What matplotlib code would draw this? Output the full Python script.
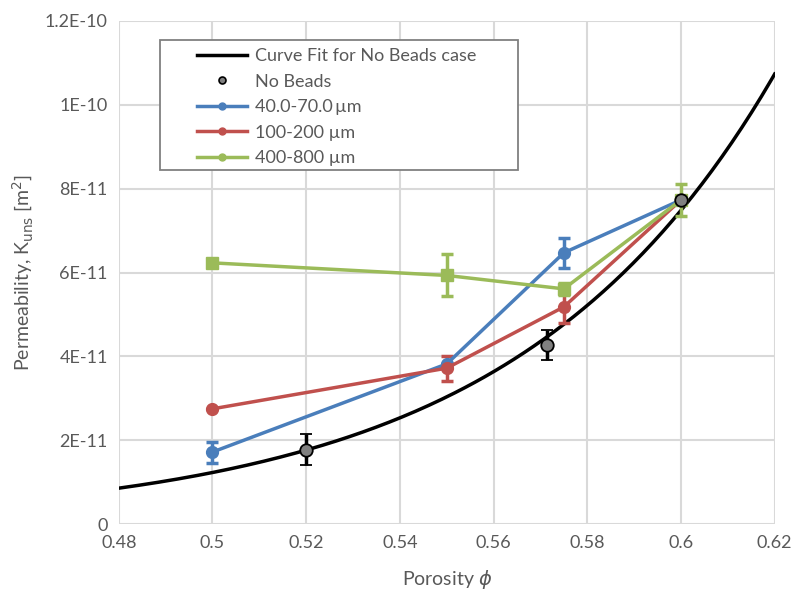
import numpy as np
import matplotlib.pyplot as plt
from matplotlib.patches import Rectangle
from matplotlib.ticker import FixedLocator, FuncFormatter

plt.rcParams['font.family'] = ['Lato', 'DejaVu Sans']
plt.rcParams['mathtext.fontset'] = 'dejavusans'

# no beads measurements
nb_phi = [0.52, 0.5713, 0.6]
nb_k = [1.77e-11, 4.27e-11, 7.73e-11]
nb_err = [0.37e-11, 0.35e-11, 0.0]

# fitted curve K = a * exp(b * phi)
fit_a = 1.49e-15
fit_b = 18.04

phi_beads = [0.5, 0.55, 0.575, 0.6]
k_40_70 = [1.72e-11, 3.82e-11, 6.47e-11, 7.73e-11]
err_40_70 = [0.25e-11, 0.0, 0.36e-11, 0.0]
k_100_200 = [2.75e-11, 3.72e-11, 5.18e-11, 7.73e-11]
err_100_200 = [0.0, 0.3e-11, 0.38e-11, 0.0]
k_400_800 = [6.23e-11, 5.93e-11, 5.61e-11, 7.73e-11]
err_400_800 = [0.0, 0.5e-11, 0.15e-11, 0.38e-11]

x_ticks = [0.48, 0.5, 0.52, 0.54, 0.56, 0.58, 0.6, 0.62]
y_ticks = [0, 2e-11, 4e-11, 6e-11, 8e-11, 1e-10, 1.2e-10]
y_labels = ["0", "2E-11", "4E-11", "6E-11", "8E-11", "1E-10", "1.2E-10"]

txt = '#595959'
fig = plt.figure(figsize=(7.97, 5.95), dpi=100)
ax = fig.add_axes([0.149, 0.119, 0.823, 0.846])

phi_fit = np.linspace(0.48, 0.62, 200)
line_fit, = ax.plot(phi_fit, fit_a * np.exp(fit_b * phi_fit), color='black',
                    lw=2.5, zorder=3)

series = [
    (k_40_70, err_40_70, '#4a7ebb', 'o', '40.0-70.0\u2009\u00b5m'),
    (k_100_200, err_100_200, '#c0504d', 'o', '100-200 \u00b5m'),
    (k_400_800, err_400_800, '#9bbb59', 's', '400-800 \u00b5m'),
]

handles, labels = [], []
for k, err, col, mk, lab in series:
    ax.errorbar(phi_beads, k, yerr=err, color=col, lw=2.5, marker=mk,
                markersize=8.5, capsize=4, capthick=2.5, elinewidth=2.5,
                zorder=4)
    h, = ax.plot([], [], color=col, lw=2.5, marker='o', markersize=5)
    handles.append(h)
    labels.append(lab)

ax.errorbar(nb_phi, nb_k, yerr=nb_err, fmt='o', color='black', mfc='#808080',
            mec='black', mew=1.3, markersize=9, capsize=4, capthick=2.5,
            elinewidth=2.5, zorder=6)
h_nb, = ax.plot([], [], 'o', mfc='#808080', mec='black', mew=1.2, markersize=5)

ax.set_xlim(0.48, 0.62)
ax.set_ylim(0, 1.2e-10)
ax.xaxis.set_major_locator(FixedLocator(x_ticks))
ax.xaxis.set_major_formatter(FuncFormatter(lambda v, p: f"{v:g}"))
ax.set_yticks(y_ticks)
ax.set_yticklabels(y_labels)
ax.grid(True, color='#d9d9d9', lw=1.5)
ax.set_axisbelow(True)
for s in ax.spines.values():
    s.set_visible(False)
ax.tick_params(length=0, labelsize=13, colors=txt, pad=8)

ax.set_xlabel('Porosity $\\phi$', fontsize=14, color=txt, labelpad=12)
ax.set_ylabel('Permeability, K$_{\\mathrm{uns}}$ [m$^2$]', fontsize=14,
              color=txt, labelpad=7)

# legend frame drawn separately for the wide Excel-style box
ax.add_patch(Rectangle((0.0625, 0.704), 0.5455, 0.258, transform=ax.transAxes,
                       facecolor='white', edgecolor='#808080', lw=1.3,
                       zorder=7))
leg = ax.legend([line_fit, h_nb] + handles,
                ['Curve Fit for No Beads case', 'No Beads'] + labels,
                loc='upper left', bbox_to_anchor=(0.119, 0.946), fontsize=13,
                frameon=False, handlelength=2.8, borderpad=0,
                labelspacing=0.53, borderaxespad=0, handletextpad=0.45)
leg.set_zorder(8)
for t in leg.get_texts():
    t.set_color(txt)

fig.savefig('out.png', dpi=100)
